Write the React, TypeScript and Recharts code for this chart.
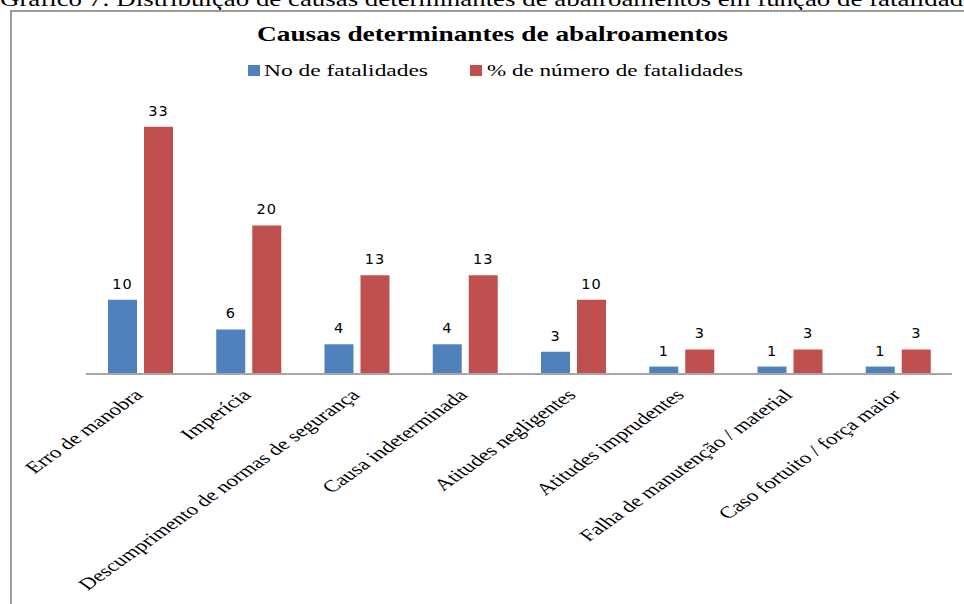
import React from "react"
import { BarChart, Bar, XAxis, YAxis, LabelList } from "recharts"

const categories = [
  "Erro de manobra",
  "Imperícia",
  "Descumprimento de normas de segurança",
  "Causa indeterminada",
  "Atitudes negligentes",
  "Atitudes imprudentes",
  "Falha de manutenção / material",
  "Caso fortuito / força maior",
]
const fatalidades = [10, 6, 4, 4, 3, 1, 1, 1]
const percentual = [33.3, 20, 13.3, 13.3, 10, 3.3, 3.3, 3.3]

const data = categories.map((name, i) => ({
  name,
  n: fatalidades[i],
  pct: percentual[i],
}))

const BLUE = "#4F81BD"
const RED = "#C0504D"
const serif = "'Liberation Serif', 'Times New Roman', serif"

function CategoryTick(props: any) {
  const { x, y, payload } = props
  return (
    <g transform={`translate(${x + 4},${y + 14}) scale(1.4,1) rotate(-45)`}>
      <text
        x={0}
        y={0}
        textAnchor="end"
        fontFamily={serif}
        fontSize={16.5}
        fill="#000"
      >
        {payload.value}
      </text>
    </g>
  )
}

const labelStyle = {
  fontFamily: "'DejaVu Sans', Verdana, sans-serif",
  fontSize: 14.5,
  letterSpacing: 1,
  fill: "#000",
}

export default function App() {
  return (
    <div
      style={{
        position: "absolute",
        left: 0,
        top: 0,
        width: 964,
        height: 604,
        overflow: "hidden",
        background: "#fff",
      }}
    >
      <svg
        width={964}
        height={604}
        style={{ position: "absolute", left: 0, top: 0 }}
      >
        <text
          x={0}
          y={6}
          fontFamily={serif}
          fontSize={21}
          textLength={975}
          lengthAdjust="spacingAndGlyphs"
          fill="#000"
        >
          Gráfico 7: Distribuição de causas determinantes de abalroamentos em função de fatalidade
        </text>
        <rect x={11} y={11} width={1000} height={700} fill="none" stroke="#9c9c9c" strokeWidth={2} />
        <text
          x={257}
          y={41}
          fontFamily={serif}
          fontWeight="bold"
          fontSize={21}
          textLength={471}
          lengthAdjust="spacingAndGlyphs"
          fill="#000"
        >
          Causas determinantes de abalroamentos
        </text>
        <rect x={248} y={65} width={12} height={11} fill={BLUE} />
        <text
          x={264}
          y={76}
          fontFamily={serif}
          fontSize={17}
          textLength={164}
          lengthAdjust="spacingAndGlyphs"
          fill="#000"
        >
          No de fatalidades
        </text>
        <rect x={470} y={65} width={12} height={11} fill={RED} />
        <text
          x={487}
          y={76}
          fontFamily={serif}
          fontSize={17}
          textLength={256}
          lengthAdjust="spacingAndGlyphs"
          fill="#000"
        >
          % de número de fatalidades
        </text>
      </svg>
      <div style={{ position: "absolute", left: 0, top: 0 }}>
        <BarChart
          width={964}
          height={604}
          data={data}
          margin={{ top: 114, right: 12, left: 86, bottom: 200 }}
          barSize={29}
          barGap={7}
        >
          <XAxis
            dataKey="name"
            height={30}
            interval={0}
            tickLine={false}
            axisLine={{ stroke: "#a6a6a6", strokeWidth: 2 }}
            tick={<CategoryTick />}
          />
          <YAxis hide domain={[0, 35]} />
          <Bar dataKey="n" fill={BLUE} isAnimationActive={false}>
            <LabelList
              dataKey="n"
              position="top"
              offset={11}
              style={labelStyle}
            />
          </Bar>
          <Bar dataKey="pct" fill={RED} isAnimationActive={false}>
            <LabelList
              dataKey="pct"
              position="top"
              offset={11}
              style={labelStyle}
              formatter={(v: any) => Math.round(Number(v))}
            />
          </Bar>
        </BarChart>
      </div>
    </div>
  )
}
